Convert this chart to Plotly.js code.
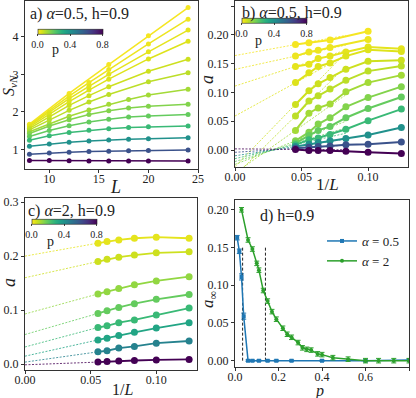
<!DOCTYPE html>
<html>
<head>
<meta charset="utf-8">
<script src="https://cdn.plot.ly/plotly-3.0.1.min.js"></script>
<style>body{margin:0;background:#fff}#graph{width:416px;height:398px}</style>
</head>
<body>
<div id="graph"></div>
<script>
// ---- panel a: S_vN vs L (alpha=0.5) ----
var L_a = [8, 10, 12, 14, 16, 18, 20, 24];
var p_ab = [0.01, 0.02, 0.03, 0.04, 0.06, 0.08, 0.11, 0.15, 0.19, 0.26, 0.4, 0.6, 0.8];
var S_a = [
  [1.67, null, 2.49, null, 3.26, null, 4.03, 4.78],
  [1.65, null, 2.42, 2.78, 3.13, null, 3.81, 4.47],
  [1.63, 1.99, 2.35, 2.68, 3.00, null, 3.60, 4.18],
  [1.60, 1.94, 2.27, 2.58, 2.87, null, 3.41, 3.88],
  [1.56, 1.86, 2.17, 2.43, 2.67, null, 3.08, 3.40],
  [1.52, 1.78, 2.04, 2.26, 2.46, null, 2.80, 3.04],
  [1.47, 1.68, 1.88, 2.05, 2.20, 2.33, 2.45, 2.60],
  [1.42, 1.62, 1.79, 1.93, 2.03, 2.10, 2.15, 2.20],
  [1.34, 1.50, 1.63, 1.73, 1.80, 1.86, 1.89, 1.93],
  [1.24, 1.36, 1.45, 1.51, 1.55, 1.58, 1.60, 1.62],
  [1.08, 1.14, 1.19, 1.22, 1.25, 1.27, 1.28, 1.31],
  [0.87, 0.90, 0.92, 0.94, 0.95, 0.96, 0.97, 0.98],
  [0.70, 0.70, 0.695, 0.69, 0.69, 0.69, 0.69, 0.69]
];

// ---- panel b: a vs 1/L (alpha=0.5) ----
var L_b = [22, 18, 16, 14, 12, 10, 8];
var a_b = [
  [0.183, 0.186, null, 0.191, null, 0.206, null],
  [0.163, 0.170, 0.173, 0.178, null, 0.192, null],
  [0.145, 0.149, 0.159, 0.163, 0.170, 0.179, 0.176],
  [0.117, 0.134, 0.145, 0.151, 0.163, 0.174, 0.171],
  [0.079, 0.103, 0.115, 0.126, 0.140, 0.154, 0.156],
  [0.059, 0.085, 0.094, 0.106, 0.121, 0.137, 0.146],
  [0.034, 0.064, 0.073, 0.080, 0.101, 0.117, 0.130],
  [0.016, 0.031, 0.045, 0.056, 0.075, 0.091, 0.110],
  [0.012, 0.025, 0.034, 0.041, 0.056, 0.072, 0.092],
  [0.009, 0.018, 0.021, 0.027, 0.036, 0.051, 0.071],
  [0.006, 0.010, 0.013, 0.016, 0.020, 0.026, 0.039],
  [0.003, 0.005, 0.006, 0.007, 0.009, 0.010, 0.014],
  [0.001, -0.001, -0.001, -0.001, -0.002, -0.004, -0.006]
];
// linear fits a = a0 + s/L
var fit0_b = [0.164, 0.140, 0.111, 0.059, -0.029, -0.045, -0.040, -0.025, -0.020, -0.015, -0.010, -0.004, 0.002];
var fitS_b = [0.42, 0.506, 0.75, 1.27, 2.38, 2.29, 1.63, 0.90, 0.70, 0.53, 0.35, 0.15, -0.02];
var fitEnd_b = 1 / 12;

// ---- panel c: a vs 1/L (alpha=2) ----
var L_c = [18, 16, 14, 12, 10, 8];
var p_c = [0.03, 0.06, 0.13, 0.19, 0.26, 0.33, 0.45, 0.8];
var a_c = [
  [0.224, 0.227, 0.230, 0.233, 0.235, 0.233],
  [0.190, 0.194, 0.198, 0.202, 0.206, 0.208],
  [0.130, 0.134, 0.140, 0.147, 0.154, 0.162],
  [0.094, 0.099, 0.105, 0.112, 0.120, 0.129],
  [0.068, 0.071, 0.077, 0.082, 0.091, 0.104],
  [0.045, 0.048, 0.053, 0.059, 0.067, 0.077],
  [0.023, 0.025, 0.030, 0.033, 0.039, 0.043],
  [0.004, 0.005, 0.006, 0.007, 0.008, 0.009]
];
var fit0_c = [0.200, 0.160, 0.093, 0.055, 0.032, 0.015, 0.004, -0.001];

// ---- panel d: a_inf vs p ----
var p_d05 = [0.01, 0.02, 0.03, 0.04, 0.06, 0.08, 0.11, 0.15, 0.19, 0.26, 0.4, 0.6, 0.8];
var a_d05 = [0.163, 0.145, 0.111, 0.059, 0, 0, 0, 0, 0, 0, 0, 0, 0.001];
var e_d05 = [0.003, 0.003, 0.004, 0.004, 0.001, 0.001, 0.001, 0.001, 0.001, 0.001, 0.001, 0.001, 0.001];
var p_d2 = [0.03, 0.06, 0.08, 0.10, 0.11, 0.13, 0.15, 0.17, 0.19, 0.22, 0.24, 0.26, 0.29, 0.31, 0.33, 0.35, 0.38, 0.40, 0.45, 0.52, 0.60, 0.66, 0.73, 0.80];
var a_d2 = [0.200, 0.160, 0.148, 0.129, 0.120, 0.093, 0.079, 0.065, 0.055, 0.043, 0.035, 0.031, 0.024, 0.017, 0.015, 0.014, 0.009, 0.008, 0.004, 0.002, 0.000, 0.000, 0.000, 0.000];
var pc = [0.035, 0.14];
var pcTop = 0.15;

var viridis = [
  [0, '#440154'], [0.0627, '#48186a'], [0.1255, '#472d7b'], [0.1882, '#424086'],
  [0.2510, '#3b528b'], [0.3137, '#33638d'], [0.3765, '#2c728e'], [0.4392, '#26828e'],
  [0.5020, '#21918c'], [0.5647, '#1fa088'], [0.6275, '#28ae80'], [0.6902, '#3fbc73'],
  [0.7529, '#5ec962'], [0.8157, '#84d44b'], [0.8784, '#addc30'], [0.9412, '#d8e219'], [1, '#fde725']
];
function hex(c){ return [parseInt(c.substr(1,2),16), parseInt(c.substr(3,2),16), parseInt(c.substr(5,2),16)]; }
function pcolor(p){
  var t = 1 - p / 0.8;
  if (t <= 0) return viridis[0][1];
  if (t >= 1) return viridis[viridis.length-1][1];
  for (var i = 1; i < viridis.length; i++){
    if (t <= viridis[i][0]){
      var f = (t - viridis[i-1][0]) / (viridis[i][0] - viridis[i-1][0]);
      var a = hex(viridis[i-1][1]), b = hex(viridis[i][1]);
      return 'rgb(' + Math.round(a[0]+f*(b[0]-a[0])) + ',' + Math.round(a[1]+f*(b[1]-a[1])) + ',' + Math.round(a[2]+f*(b[2]-a[2])) + ')';
    }
  }
}

var FONT = 'Liberation Serif';
var traces = [];

// panel a
for (var i = 0; i < S_a.length; i++){
  traces.push({x: L_a, y: S_a[i], xaxis: 'x', yaxis: 'y', mode: 'lines+markers', connectgaps: true,
    line: {color: pcolor(p_ab[i]), width: 1.5}, marker: {color: pcolor(p_ab[i]), size: 5},
    showlegend: false, hoverinfo: 'skip'});
}

// panel b
var invL_b = L_b.map(function(v){ return 1 / v; });
for (var i = 0; i < a_b.length; i++){
  traces.push({x: [0, fitEnd_b], y: [fit0_b[i], fit0_b[i] + fitS_b[i] * fitEnd_b], xaxis: 'x2', yaxis: 'y2', mode: 'lines',
    line: {color: pcolor(p_ab[i]), width: 0.8, dash: '2px,1.5px'}, showlegend: false, hoverinfo: 'skip'});
}
for (var i = 0; i < a_b.length; i++){
  traces.push({x: invL_b, y: a_b[i], xaxis: 'x2', yaxis: 'y2', mode: 'lines+markers', connectgaps: true,
    line: {color: pcolor(p_ab[i]), width: 2}, marker: {color: pcolor(p_ab[i]), size: 7},
    showlegend: false, hoverinfo: 'skip'});
}

// panel c
var invL_c = L_c.map(function(v){ return 1 / v; });
for (var i = 0; i < a_c.length; i++){
  traces.push({x: [0, invL_c[0]], y: [fit0_c[i], a_c[i][0]], xaxis: 'x3', yaxis: 'y3', mode: 'lines',
    line: {color: pcolor(p_c[i]), width: 0.8, dash: '2px,1.5px'}, showlegend: false, hoverinfo: 'skip'});
  traces.push({x: invL_c, y: a_c[i], xaxis: 'x3', yaxis: 'y3', mode: 'lines+markers',
    line: {color: pcolor(p_c[i]), width: 1.8}, marker: {color: pcolor(p_c[i]), size: 7},
    showlegend: false, hoverinfo: 'skip'});
}

// panel d
for (var k = 0; k < pc.length; k++){
  traces.push({x: [pc[k], pc[k]], y: [0, pcTop], xaxis: 'x4', yaxis: 'y4', mode: 'lines',
    line: {color: '#222', width: 1, dash: '3px,2px'}, showlegend: false, hoverinfo: 'skip'});
}
traces.push({x: p_d05, y: a_d05, xaxis: 'x4', yaxis: 'y4', mode: 'lines+markers', name: '<i>α</i> = 0.5',
  line: {color: '#1f77b4', width: 1.5}, marker: {color: '#1f77b4', size: 4, symbol: 'square'},
  error_y: {type: 'data', array: e_d05, color: '#1f77b4', thickness: 1, width: 2.5}});
traces.push({x: p_d2, y: a_d2, xaxis: 'x4', yaxis: 'y4', mode: 'lines+markers', name: '<i>α</i> = 2',
  line: {color: '#2ca02c', width: 1.5}, marker: {color: '#2ca02c', size: 4, symbol: 'circle'},
  error_y: {type: 'constant', value: 0.003, color: '#2ca02c', thickness: 1, width: 2.5}});

// inset colorbars
function cbar(xa, ya, x0, y0, cx, cy){
  return {x: [x0], y: [y0], xaxis: xa, yaxis: ya, mode: 'markers', showlegend: false, hoverinfo: 'skip',
    marker: {opacity: 0, color: [0], cmin: 0, cmax: 0.8, colorscale: 'Viridis', reversescale: true, showscale: true,
      colorbar: {orientation: 'h', x: cx / 416, xanchor: 'center', y: 1 - cy / 398, yanchor: 'middle',
        len: 65, lenmode: 'pixels', thickness: 5, thicknessmode: 'pixels', xpad: 0, ypad: 0,
        outlinewidth: 0.6, outlinecolor: '#222', borderwidth: 0,
        tickvals: [0, 0.4, 0.8], ticktext: ['0.0', '0.4', '0.8'], ticks: 'outside', ticklen: 2,
        tickfont: {family: FONT, size: 10, color: '#222'}}}};
}
traces.push(cbar('x', 'y', L_a[0], S_a[0][0], 70, 40));
traces.push(cbar('x2', 'y2', invL_b[0], a_b[0][0], 274, 29));
traces.push(cbar('x3', 'y3', invL_c[0], a_c[0][0], 64, 230));

function ax(dom, anchor, range, extra){
  var o = {domain: dom, anchor: anchor, range: range, showgrid: false, zeroline: false,
    showline: true, mirror: true, linecolor: '#333', linewidth: 1,
    ticks: 'outside', ticklen: 3, tickcolor: '#333', automargin: false,
    tickfont: {family: FONT, size: 12, color: '#222'}};
  for (var k in extra) o[k] = extra[k];
  return o;
}

function label(text, px, py, size, rot){
  return {text: text, x: px / 416, y: 1 - py / 398, xref: 'paper', yref: 'paper', showarrow: false,
    xanchor: 'center', yanchor: 'middle', textangle: rot || 0, font: {family: FONT, size: size, color: '#222'}};
}
function tag(text, px, py){
  return {text: text, x: px / 416, y: 1 - py / 398, xref: 'paper', yref: 'paper', showarrow: false,
    xanchor: 'left', yanchor: 'middle', font: {family: FONT, size: 16, color: '#222'}};
}

var xt = {ticklabelstandoff: -4};
function mix(a, b){ var o = {}; for (var k in a) o[k] = a[k]; for (var k2 in b) o[k2] = b[k2]; return o; }

var layout = {
  width: 416, height: 398,
  margin: {l: 0, r: 0, t: 0, b: 0},
  paper_bgcolor: '#fff', plot_bgcolor: '#fff',
  font: {family: FONT, color: '#222'},
  xaxis: ax([25/416, 198/416], 'y', [7.55, 25], mix(xt, {dtick: 5, tick0: 0})),
  yaxis: ax([1 - 169/398, 1 - 1/398], 'x', [0.475, 4.955], {dtick: 1, tick0: 0}),
  xaxis2: ax([235/416, 408/416], 'y2', [0, 0.13], mix(xt, {dtick: 0.05, tick0: 0, tickformat: '.2f'})),
  yaxis2: ax([1 - 167/398, 1 - 1/398], 'x2', [-0.0295, 0.2587], {dtick: 0.05, tick0: 0, tickformat: '.2f'}),
  xaxis3: ax([25/416, 197/416], 'y3', [0, 0.131], mix(xt, {dtick: 0.05, tick0: 0, tickformat: '.2f'})),
  yaxis3: ax([1 - 370/398, 1 - 197.7/398], 'x3', [-0.0106, 0.308], {dtick: 0.1, tick0: 0, tickformat: '.1f'}),
  xaxis4: ax([235/416, 409/416], 'y4', [0, 0.8], mix(xt, {dtick: 0.2, tick0: 0, tickformat: '.1f'})),
  yaxis4: ax([1 - 366.7/398, 1 - 200/398], 'x4', [-0.008, 0.213], {dtick: 0.05, tick0: 0, tickformat: '.2f'}),
  legend: {x: 404/416, xanchor: 'right', y: 1 - 226/398, yanchor: 'top', bgcolor: 'rgba(255,255,255,0)',
    font: {family: FONT, size: 13, color: '#222'}, itemwidth: 30, tracegroupgap: 0},
  annotations: [
    tag('a) <i>α</i>=0.5, h=0.9', 28, 14),
    tag('b) <i>α</i>=0.5, h=0.9', 240, 13),
    tag('c) <i>α</i>=2, h=0.9', 26, 211),
    tag('d) h=0.9', 258, 216),
    label('p', 55, 50, 14), label('p', 258, 40, 14), label('p', 50, 241, 14),
    // axis titles
    label('<i>L</i>', 115, 187, 18),
    label('<i>S</i><sub><i>vN</i></sub>', 10, 86, 16, -90),
    label('1/<i>L</i>', 327, 184, 17),
    label('<i>a</i>', 207, 80, 18, -90),
    label('1/<i>L</i>', 122, 389, 16),
    label('<i>a</i>', 9, 283, 18, -90),
    label('<i>p</i>', 319, 391, 16),
    label('<i>a</i><sub>∞</sub>', 209, 300, 17, -90)
  ]
};

Plotly.newPlot('graph', traces, layout, {displayModeBar: false, staticPlot: true});
</script>
</body>
</html>
